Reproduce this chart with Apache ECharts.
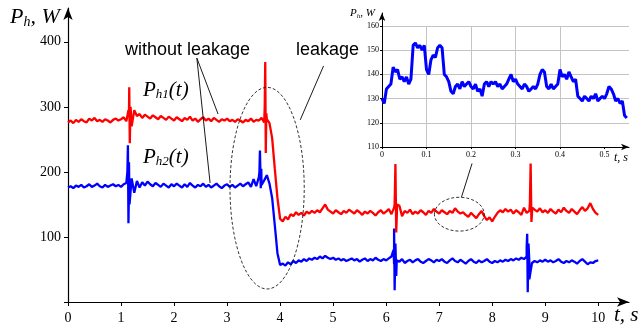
<!DOCTYPE html>
<html><head><meta charset="utf-8">
<script src="https://cdn.jsdelivr.net/npm/echarts@6/dist/echarts.min.js"></script>
<style>html,body{margin:0;padding:0;background:#fff}#c{width:643px;height:327px}</style>
</head><body><div id="c"></div>
<script>
// ---------- data ----------
const mainStep = 0.05; // s between samples of the main traces
const redValues = [
  276,279,275,280,277,281,278,276,282,279,283,278,280,277,281,279,276,280,282,279,
  281,284,278,290,270,295,286,289,283,288,285,282,287,284,281,286,283,280,285,282,
  279,284,281,278,283,280,285,279,282,277,281,284,279,282,278,283,280,277,281,279,
  282,278,280,277,281,279,276,280,278,282,277,280,279,283,276,281,
  275,252,205,160,
  128,124,131,127,135,132,138,134,137,133,139,136,140,137,141,138,144,150,142,139,
  136,141,138,135,140,137,142,139,136,141,138,134,139,136,140,137,133,138,141,136,
  139,143,135,145,130,148,132,140,137,142,135,139,136,141,138,134,140,137,143,139,
  136,141,138,135,140,137,144,139,136,138,134,131,137,133,129,135,140,132,126,130,
  124,131,137,141,138,143,139,142,136,141,138,134,145,137,140,136,142,139,144,138,
  141,137,143,139,136,142,138,145,140,137,143,139,135,141,146,140,144,152,143,137,
  134
];
const blueValues = [
  176,178,175,179,177,180,176,178,181,177,179,182,178,176,180,177,179,181,178,180,
  177,181,183,175,190,168,186,176,184,179,185,181,178,183,180,177,182,179,176,181,
  178,182,179,176,181,177,183,179,176,180,178,182,177,180,176,179,182,178,175,179,
  181,177,180,176,179,182,178,181,184,177,189,178,192,180,187,195,
  182,160,118,75,
  57,59,56,61,58,63,60,64,62,66,63,67,65,68,66,70,67,71,68,66,
  68,65,67,64,66,63,65,67,64,66,62,65,67,63,66,64,68,65,63,66,
  64,67,70,58,64,62,66,60,63,65,61,64,66,62,60,63,66,64,61,65,
  63,66,62,60,64,67,63,61,65,62,59,63,66,62,60,64,61,63,66,62,
  60,63,61,64,62,65,63,66,64,67,65,68,66,70,62,60,63,61,64,62,
  65,62,64,61,63,66,62,60,63,61,64,62,59,63,66,62,58,61,60,63,
  64
];
// short transients (time s, power W)
const redSpikes = [[1.14,295],[1.155,330],[1.165,244],[1.18,300],
  [3.71,300],[3.72,369],[3.73,229],[3.74,290],
  [6.16,150],[6.175,212],[6.19,107],[6.205,150],
  [8.71,150],[8.725,213],[8.74,123],[8.755,145]];
const blueSpikes = [[1.12,200],[1.13,241],[1.14,121],[1.15,215],[1.16,150],
  [3.61,200],[3.62,233],[3.635,175],[3.645,205],
  [6.14,80],[6.15,113],[6.16,18],[6.175,90],[6.19,40],
  [8.65,85],[8.66,105],[8.67,15],[8.685,90],[8.70,35]];

const insetStep = 0.005;
const insetValues = [
  130,128,134,135,136,143,141,142,138,139,
  137,139,136,138,152,153,151,152,150,152,
  142,140,146,148,147,151,152,151,140,139,
  137,133,132,135,136,134,137,135,136,137,
  135,134,136,133,134,131,136,137,135,137,
  136,137,135,136,134,135,136,138,140,137,
  138,136,135,134,136,135,133,134,135,134,
  136,140,142,141,135,134,136,134,135,136,
  142,139,140,138,141,139,137,138,131,130,
  129,131,130,129,131,130,132,129,130,131,
  130,132,135,134,132,129,130,128,129,123,122
];

const mainXTicks = [0,1,2,3,4,5,6,7,8,9,10];
const mainYTicks = [0,100,200,300,400];
const mainYLabels = [100,200,300,400];
const insetXTicks = [0,0.1,0.2,0.3,0.4,0.5];
const insetYTicks = [110,120,130,140,150,160];

// annotation anchors in data coordinates of the main plot
const bigEllipse = {c:[3.755,175], rx:0.70, ry:155};
const smallEllipse = {c:[7.38,135], rx:0.47, ry:26};
const leaderLines = [
  [[4.82,363],[4.38,280]],
  [[2.43,375],[2.83,289]],
  [[2.43,375],[2.68,183]],
  [[7.62,213],[7.42,161]]
];

// ---------- build ----------
function build(vals, step, spikes){
  const pts = vals.map((v,i)=>[+(i*step).toFixed(4), v]);
  return pts.concat(spikes || []).sort((a,b)=>a[0]-b[0]);
}
const redData = build(redValues, mainStep, redSpikes);
const blueData = build(blueValues, mainStep, blueSpikes);
const insetData = build(insetValues, insetStep, []);

const serif = 'Liberation Serif';
const arrow = {show:true, symbol:['none','arrow'], symbolSize:[7,12], lineStyle:{color:'#000', width:1.2}};
const arrowSmall = {show:true, symbol:['none','arrow'], symbolSize:[5,8], lineStyle:{color:'#000', width:1}};

const chart = echarts.init(document.getElementById('c'), null, {renderer:'canvas'});
const option = {
  animation:false,
  backgroundColor:'#fff',
  grid:[
    {left:68, right:14, top:8, bottom:25, outerBoundsMode:'none', containLabel:false},
    {left:382, right:14, top:26, bottom:180, outerBoundsMode:'none', containLabel:false},
    {left:382, right:14, top:13, bottom:180, outerBoundsMode:'none', containLabel:false}
  ],
  xAxis:[
    {type:'value', gridIndex:0, min:0, max:10.58, interval:1, axisLine:arrow,
     axisTick:{show:true, length:4, inside:false, customValues:mainXTicks, lineStyle:{color:'#000'}},
     axisLabel:{customValues:mainXTicks, margin:9, fontFamily:serif, fontSize:14, color:'#000'},
     splitLine:{show:false}},
    {type:'value', gridIndex:0, min:0, max:10.58, interval:1, axisLine:{show:false},
     axisTick:{show:true, length:4, inside:true, customValues:mainXTicks, lineStyle:{color:'#000'}},
     axisLabel:{show:false}, splitLine:{show:false}},
    {type:'value', gridIndex:1, min:0, max:0.555, interval:0.1, axisLine:arrowSmall,
     axisTick:{show:true, length:2, customValues:insetXTicks, lineStyle:{color:'#000'}},
     axisLabel:{customValues:insetXTicks, margin:4, fontFamily:serif, fontSize:8, color:'#000'},
     splitLine:{show:true, showMinLine:false, showMaxLine:false, lineStyle:{color:'#c4c4c4', width:1}}},
    {type:'value', gridIndex:2, min:0, max:1, show:false}
  ],
  yAxis:[
    {type:'value', gridIndex:0, min:0, max:452, interval:100, axisLine:arrow,
     axisTick:{show:true, length:4, customValues:mainYTicks, lineStyle:{color:'#000'}},
     axisLabel:{customValues:mainYLabels, margin:7, fontFamily:serif, fontSize:14, color:'#000'},
     splitLine:{show:false}},
    {type:'value', gridIndex:0, min:0, max:452, interval:100, axisLine:{show:false},
     axisTick:{show:true, length:4, inside:true, customValues:mainYTicks, lineStyle:{color:'#000'}},
     axisLabel:{show:false}, splitLine:{show:false}},
    {type:'value', gridIndex:1, min:110, max:160, interval:10, axisLine:{show:false},
     axisTick:{show:true, length:2, customValues:insetYTicks, lineStyle:{color:'#000'}},
     axisLabel:{customValues:insetYTicks, margin:3, fontFamily:serif, fontSize:8, color:'#000'},
     splitLine:{show:true, showMinLine:false, showMaxLine:true, lineStyle:{color:'#c4c4c4', width:1}}},
    {type:'value', gridIndex:2, min:0, max:1, axisLine:arrowSmall,
     axisTick:{show:false}, axisLabel:{show:false}, splitLine:{show:false}}
  ],
  series:[
    {type:'line', xAxisIndex:0, yAxisIndex:0, data:blueData, showSymbol:false, sampling:null,
     lineStyle:{color:'#0000ff', width:2.3}, z:3},
    {type:'line', xAxisIndex:0, yAxisIndex:0, data:redData, showSymbol:false, sampling:null,
     lineStyle:{color:'#ff0000', width:2.3}, z:4},
    {type:'line', xAxisIndex:2, yAxisIndex:2, data:insetData, showSymbol:false, sampling:null,
     lineStyle:{color:'#0000ff', width:3}, z:4}
  ]
};
chart.setOption(option);

// ---------- annotations ----------
function px(p){ return chart.convertToPixel({xAxisIndex:0, yAxisIndex:0}, p); }
function ellipseEl(e){
  const c = px(e.c);
  const r = px([e.c[0]+e.rx, e.c[1]+e.ry]);
  return {type:'ellipse', silent:true, z:10,
    shape:{cx:c[0], cy:c[1], rx:Math.abs(r[0]-c[0]), ry:Math.abs(c[1]-r[1])},
    style:{fill:'none', stroke:'#000', lineWidth:0.8, lineDash:[3,2]}};
}
const graphics = [ellipseEl(bigEllipse), ellipseEl(smallEllipse)];
leaderLines.forEach(l=>{
  const a = px(l[0]), b = px(l[1]);
  graphics.push({type:'line', silent:true, z:10, shape:{x1:a[0], y1:a[1], x2:b[0], y2:b[1]},
    style:{stroke:'#000', lineWidth:0.9}});
});
const titleRich = (big, small) => ({
  b:{fontFamily:serif, fontStyle:'italic', fontSize:big, color:'#000'},
  s:{fontFamily:serif, fontStyle:'italic', fontSize:small, color:'#000', padding:[Math.round(big*0.45),0,0,0]}
});
graphics.push(
  {type:'text', z:11, left:125, top:41, style:{text:'without leakage', font:'18px "Liberation Sans"', fill:'#000'}},
  {type:'text', z:11, left:296, top:41, style:{text:'leakage', font:'18px "Liberation Sans"', fill:'#000'}},
  {type:'text', z:11, left:143, top:80, style:{text:'{b|P}{s|h1}{b|(t)}', rich:titleRich(21,13)}},
  {type:'text', z:11, left:143, top:147, style:{text:'{b|P}{s|h2}{b|(t)}', rich:titleRich(21,13)}},
  {type:'text', z:11, left:10, top:6, style:{text:'{b|P}{s|h}{b|, W}', rich:titleRich(22,14)}},
  {type:'text', z:11, left:614, top:305, style:{text:'{b|t, s}', rich:titleRich(21,13)}},
  {type:'text', z:11, left:350, top:8, style:{text:'{b|P}{s|h}{b|, W}', rich:titleRich(11,7)}},
  {type:'text', z:11, left:614, top:152, style:{text:'{b|t, s}', rich:titleRich(12,8)}}
);
chart.setOption({graphic:graphics});
</script>
</body></html>
